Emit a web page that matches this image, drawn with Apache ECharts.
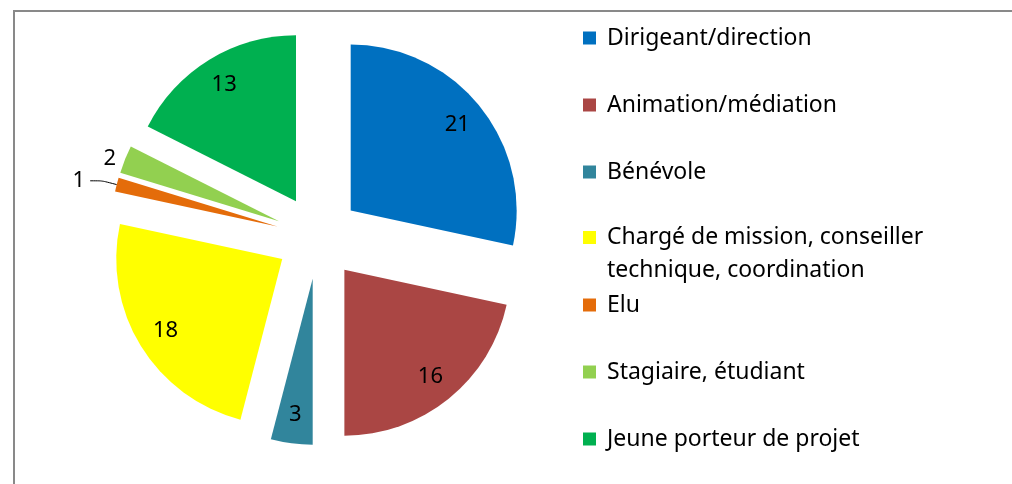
<!DOCTYPE html>
<html>
<head>
<meta charset="utf-8">
<script src="https://cdn.jsdelivr.net/npm/echarts@6/dist/echarts.min.js"></script>
<style>
  html, body { margin: 0; padding: 0; background: #fff; }
  #chart { width: 1012px; height: 484px; }
</style>
</head>
<body>
<div id="chart"></div>
<script>
const categories = [
  "Dirigeant/direction",
  "Animation/médiation",
  "Bénévole",
  "Chargé de mission, conseiller technique, coordination",
  "Elu",
  "Stagiaire, étudiant",
  "Jeune porteur de projet"
];
const values = [21, 16, 3, 18, 1, 2, 13];
const colors = ["#0070C0", "#AA4644", "#31859C", "#FFFF00", "#E46C0A", "#92D050", "#00B050"];
// small slices get their value outside the pie
const outsideLabels = ["Elu", "Stagiaire, étudiant"];

const font = "Noto Sans";
const center = [318, 237];
const chart = echarts.init(document.getElementById("chart"));

const legendBase = {
  orient: "vertical",
  left: 583,
  padding: 0,
  itemWidth: 25,
  itemHeight: 13,
  itemGap: 34,
  icon: "path://M0 0H10V10H0Z",
  selectedMode: false,
  textStyle: { fontFamily: font, fontSize: 23, color: "#000", lineHeight: 33 }
};

let option = {
  backgroundColor: "#fff",
  animation: false,
  graphic: [
    {
      type: "rect",
      silent: true,
      shape: { x: 14, y: 11, width: 1200, height: 600 },
      style: { fill: "transparent", stroke: "#898989", lineWidth: 2 }
    }
  ],
  legend: [
    Object.assign({}, legendBase, { top: 21.5, data: categories.slice(0, 3) }),
    Object.assign({}, legendBase, {
      top: 188,
      data: categories.slice(3, 4),
      // empty first line so the square sits on the first text line
      formatter: n => "\n" + n.replace("conseiller ", "conseiller\n")
    }),
    Object.assign({}, legendBase, { top: 288.5, data: categories.slice(4) })
  ],
  series: [
    {
      // the pie itself
      type: "pie",
      center: center,
      radius: 166,
      startAngle: 90,
      clockwise: true,
      selectedMode: "multiple",
      selectedOffset: 42,
      avoidLabelOverlap: false,
      emphasis: { disabled: true },
      label: { show: false },
      labelLine: { show: false },
      data: categories.map((n, i) => {
        let item = {
          name: n,
          value: values[i],
          selected: true,
          itemStyle: { color: colors[i] }
        };
        if (outsideLabels.indexOf(n) >= 0) {
          item.label = {
            show: true,
            position: "outside",
            formatter: "{c}",
            fontFamily: font,
            fontSize: 22,
            color: "#000"
          };
          item.labelLine = n === "Elu"
            ? { show: true, length: 15, length2: 12, smooth: 0.2, lineStyle: { color: "#000", width: 1 } }
            : { show: false, length: 2, length2: 2 };
        }
        return item;
      })
    },
    {
      // invisible copy, only carries the inner value labels
      type: "pie",
      center: center,
      radius: [104, 164],
      startAngle: 90,
      clockwise: true,
      selectedMode: "multiple",
      selectedOffset: 42,
      silent: true,
      avoidLabelOverlap: false,
      emphasis: { disabled: true },
      itemStyle: { color: "transparent" },
      label: {
        show: true,
        position: "inside",
        formatter: "{c}",
        fontFamily: font,
        fontSize: 22,
        color: "#000",
        padding: [10, 0, 0, 0]
      },
      labelLine: { show: false },
      data: categories.map((n, i) => ({
        name: n,
        value: values[i],
        selected: true,
        label: { show: outsideLabels.indexOf(n) < 0 }
      }))
    }
  ]
};

chart.setOption(option);
</script>
</body>
</html>
